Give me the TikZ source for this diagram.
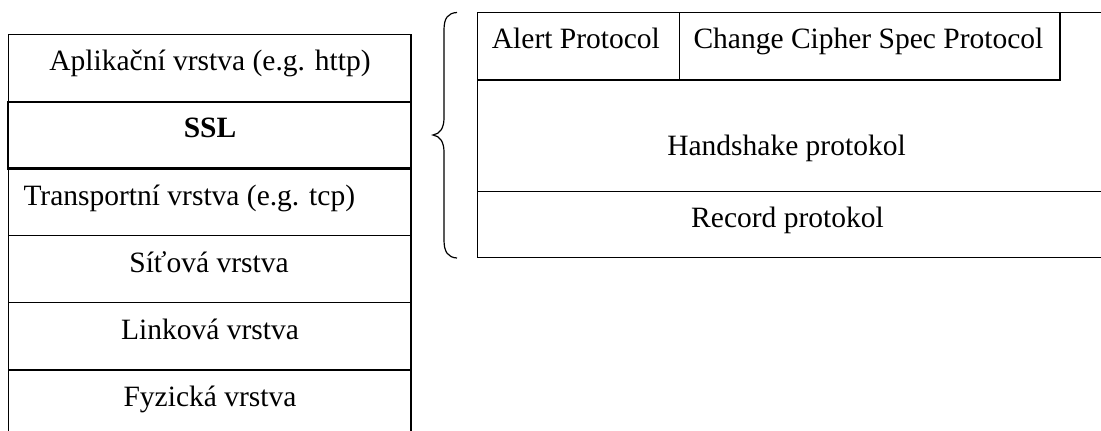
\documentclass[tikz,border=0pt]{standalone}
\usepackage{fontspec}
\setmainfont{Liberation Serif}
\begin{document}
\begin{tikzpicture}[x=1pt,y=-1pt,
  rule/.style={line width=1.3pt, draw=black},
  thickrule/.style={line width=2.2pt, draw=black},
  lbl/.style={inner sep=0pt, font=\fontsize{29.5}{35}\selectfont},
]
\useasboundingbox (0,0) rectangle (1101,431);
\clip (0,0) rectangle (1101,431);
\fill[white] (0,0) rectangle (1101,431);

% ---- layer stack (left) ----
\coordinate (sL) at (8.3,34.3);
\coordinate (sR) at (411,34.3);
\draw[rule] (8.3,445) -- (sL) -- (sR) -- (411,445);
\foreach \yy in {235.7,302.7,370} \draw[rule] (8.3,\yy) -- (411,\yy);
\draw[thickrule] (8.3,101.7) rectangle (411,168.5);

\node[lbl, anchor=base] (app) at (210,70.7) {Aplikační vrstva (e.g. http)};
\node[lbl, anchor=base, font=\fontsize{29.5}{35}\selectfont\bfseries] (ssl) at (210,137.7) {SSL};
\node[lbl, anchor=base west] (trans) at (23.3,205.7) {Transportní vrstva (e.g. tcp)};
\node[lbl, anchor=base] (net) at (209,272.5) {Síťová vrstva};
\node[lbl, anchor=base] (link) at (210,339.8) {Linková vrstva};
\node[lbl, anchor=base] (phys) at (210,406.7) {Fyzická vrstva};

% ---- brace ----
\draw[line width=1.2pt] (457,12.5) .. controls (448,13) and (444,18) .. (444,30)
  -- (444,118) .. controls (444,128) and (440,134) .. (433,135)
  .. controls (440,136) and (444,142) .. (444,152)
  -- (444,240) .. controls (444,252) and (448,257.5) .. (457,258);

% ---- SSL sub-protocols (right) ----
\draw[rule] (1110,12.3) -- (477.7,12.3) -- (477.7,257.7) -- (1110,257.7);
\draw[rule] (477.7,191.7) -- (1110,191.7);
\draw[rule] (477.7,80) -- (1060,80) -- (1060,12.3);
\draw[rule] (679.3,12.3) -- (679.3,80);

\node[lbl, anchor=base west] (alert) at (491.7,48.3) {Alert Protocol};
\node[lbl, anchor=base west] (ccs) at (693.3,48.3) {Change Cipher Spec Protocol};
\node[lbl, anchor=base] (hs) at (786.5,155) {Handshake protokol};
\node[lbl, anchor=base] (rec) at (787.5,227) {Record protokol};
\end{tikzpicture}
\end{document}
